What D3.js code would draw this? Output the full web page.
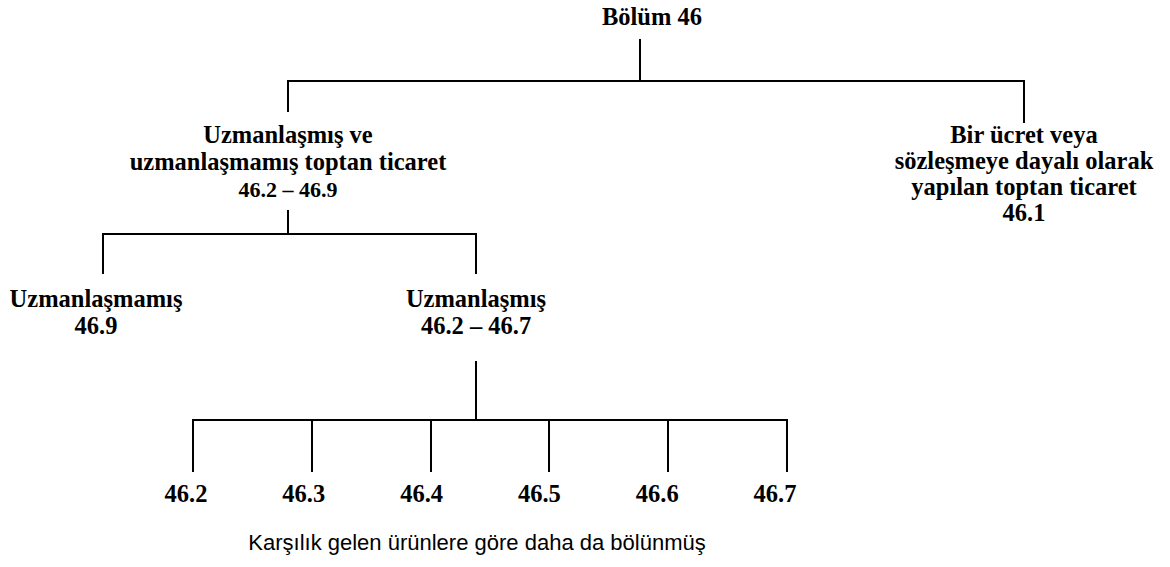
<!DOCTYPE html>
<html>
<head>
<meta charset="utf-8">
<script src="https://cdn.jsdelivr.net/npm/d3@7"></script>
<style>
  html, body { margin: 0; padding: 0; background: #fff; }
  svg { display: block; }
  .node-label { font-family: "Liberation Serif", "Times New Roman", serif; font-weight: bold; fill: #000; }
  .caption { font-family: "Liberation Sans", Arial, sans-serif; fill: #000; }
  .link { stroke: #000; stroke-width: 2; fill: none; shape-rendering: crispEdges; }
</style>
</head>
<body>
<div id="chart"></div>
<script>
// Tree content, top to bottom
const rootLines = ["Bölüm 46"];
const level1Names = ["wholesaleFee", "wholesaleOwn"];
const level1Lines = [
  ["Uzmanlaşmış ve", "uzmanlaşmamış toptan ticaret"],
  ["Bir ücret veya", "sözleşmeye dayalı olarak", "yapılan toptan ticaret", "46.1"]
];
const level1Codes = ["46.2 – 46.9", ""];
const level2Names = ["Uzmanlaşmamış", "Uzmanlaşmış"];
const level2Codes = ["46.9", "46.2 – 46.7"];
const leafCodes = ["46.2", "46.3", "46.4", "46.5", "46.6", "46.7"];
const captionText = "Karşılık gelen ürünlere göre daha da bölünmüş";

const width = 1170;
const height = 567;

const svg = d3.select("#chart").append("svg")
  .attr("width", width)
  .attr("height", height)
  .attr("viewBox", `0 0 ${width} ${height}`);

const links = svg.append("g").attr("class", "links");
const labels = svg.append("g").attr("class", "labels");

// horizontal placement per level
const x1 = d3.scalePoint().domain(d3.range(level1Names.length)).range([288, 1024]);
const x2 = d3.scalePoint().domain(level2Names).range([103, 476]);
const x3 = d3.scalePoint().domain(leafCodes).range([193, 787]);

// draws a parent stem, the bar and one drop per child
function elbow(parentX, stemTop, barY, childXs, dropEnds) {
  links.append("line").attr("class", "link")
    .attr("x1", parentX).attr("x2", parentX)
    .attr("y1", stemTop).attr("y2", barY);
  links.append("line").attr("class", "link")
    .attr("x1", d3.min(childXs) - 1).attr("x2", d3.max(childXs) + 1)
    .attr("y1", barY).attr("y2", barY);
  links.selectAll(null)
    .data(childXs)
    .enter().append("line").attr("class", "link")
    .attr("x1", (d) => d).attr("x2", (d) => d)
    .attr("y1", barY)
    .attr("y2", (d, i) => dropEnds[i]);
}

function block(lines, x, firstBaseline, lineStep, size) {
  labels.selectAll(null)
    .data(lines)
    .enter().append("text")
    .attr("class", "node-label")
    .attr("text-anchor", "middle")
    .attr("x", x)
    .attr("y", (d, i) => firstBaseline + i * lineStep)
    .style("font-size", `${size}px`)
    .text((d) => d);
}

// root (label sits a little right of its stem, as in the source)
block(rootLines, 652, 25, 27, 24.5);
elbow(640, 39, 81, level1Names.map((d, i) => x1(i)), [112, 123]);

// level 1
block(level1Lines[0], x1(0), 143, 27, 24.5);
block([level1Codes[0]], x1(0), 197, 27, 22);
block(level1Lines[1], x1(1), 143, 26, 24.5);
elbow(x1(0), 210, 234, level2Names.map((d) => x2(d)), [274, 274]);

// level 2
level2Names.forEach((name, i) => {
  block([name, level2Codes[i]], x2(name) + (i === 0 ? -7 : 0), 307, 27, 24.5);
});
elbow(x2("Uzmanlaşmış"), 361, 420, leafCodes.map((d) => x3(d)), leafCodes.map(() => 472));

// leaves
labels.selectAll(null)
  .data(leafCodes)
  .enter().append("text")
  .attr("class", "node-label")
  .attr("text-anchor", "middle")
  .attr("x", (d, i) => x3(d) - 7 - i)
  .attr("y", 502)
  .style("font-size", "24.5px")
  .text((d) => d);

// caption under the leaves
svg.append("text")
  .attr("class", "caption")
  .attr("text-anchor", "middle")
  .attr("x", 477)
  .attr("y", 550)
  .style("font-size", "22px")
  .text(captionText);
</script>
</body>
</html>
